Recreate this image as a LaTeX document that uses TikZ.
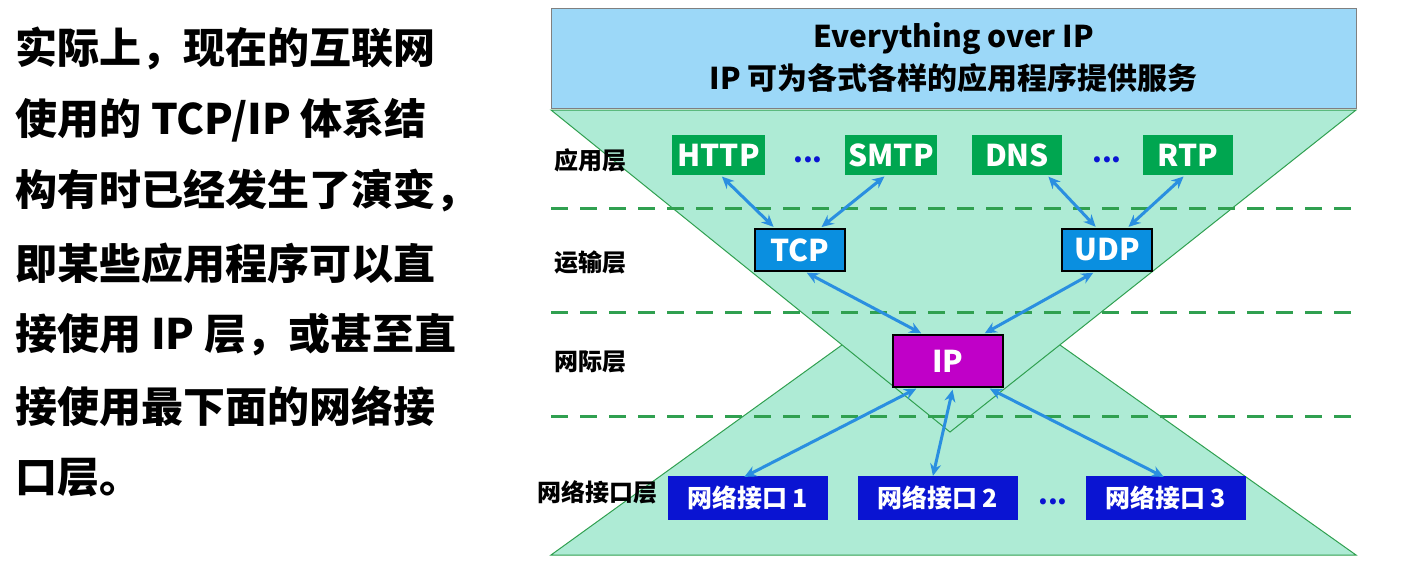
\documentclass[tikz,border=0pt]{standalone}
\usepackage{fontspec}
\setmainfont{Noto Sans CJK SC}
\usetikzlibrary{arrows.meta}
\definecolor{tri}{HTML}{AEEBD5}
\definecolor{trib}{HTML}{30A050}
\definecolor{appg}{HTML}{00A650}
\definecolor{tbl}{HTML}{0A8FE0}
\definecolor{arr}{HTML}{2A8FE0}
\definecolor{netb}{HTML}{0A14D2}
\definecolor{ipm}{HTML}{C000C8}
\definecolor{topb}{HTML}{9CD8F8}
\tikzset{
 appbox/.style={fill=appg,text=white,font=\bfseries\fontsize{30}{32}\selectfont,minimum height=40pt,inner sep=3pt},
 trbox/.style={fill=tbl,draw=black,line width=1.5pt,text=white,font=\bfseries\fontsize{30}{32}\selectfont,minimum width=90pt,minimum height=42pt,inner sep=2pt},
 netbox/.style={fill=netb,text=white,font=\bfseries\fontsize{25}{28}\selectfont,minimum width=160pt,minimum height=44pt,inner sep=2pt},
 lay/.style={font=\bfseries\fontsize{24}{26}\selectfont},
 dots/.style={text=netb,font=\bfseries\fontsize{28}{30}\selectfont},
 dl/.style={trib,line width=3pt,dash pattern=on 17pt off 12pt},
 bi/.style={arr,line width=3pt,{Stealth[length=12pt,width=11pt]}-{Stealth[length=12pt,width=11pt]},shorten <=2pt,shorten >=2pt},
 lt/.style={anchor=west,font=\bfseries\fontsize{42}{44}\selectfont}
}
\begin{document}
\begin{tikzpicture}[x=1pt,y=-1pt]
\useasboundingbox (0,0) rectangle (1405,563);
\fill[white] (0,0) rectangle (1405,563);
% triangles
\filldraw[fill=tri,draw=trib,line width=1pt] (551,555) -- (950,267) -- (1356,555) -- cycle;
\filldraw[fill=tri,draw=trib,line width=1pt] (551,110) -- (1356,110) -- (950,432) -- cycle;
% top box
\node[draw=gray,fill=topb,line width=1pt,minimum width=805pt,minimum height=100pt,inner sep=0pt,align=center,
 font=\bfseries\fontsize{30}{42}\selectfont] (top) at (953.5,58) {Everything over IP\\IP 可为各式各样的应用程序提供服务};
% dashed lines
\coordinate (d1a) at (551,208); \coordinate (d1b) at (1356,208);
\coordinate (d2a) at (551,312); \coordinate (d2b) at (1356,312);
\coordinate (d3a) at (551,416); \coordinate (d3b) at (1356,416);
\draw[dl] (d1a) -- (d1b); \draw[dl] (d2a) -- (d2b); \draw[dl] (d3a) -- (d3b);
% labels
\node[lay] (l1) at (590,160) {应用层};
\node[lay] (l2) at (590,262) {运输层};
\node[lay] (l3) at (590,362) {网际层};
\node[lay] (l4) at (597,492) {网络接口层};
% app boxes
\node[appbox,minimum width=93pt] (http) at (718.5,155) {HTTP};
\node[appbox,minimum width=92pt] (smtp) at (891,155) {SMTP};
\node[appbox,minimum width=90pt] (dns) at (1017,155) {DNS};
\node[appbox,minimum width=90pt] (rtp) at (1188,155) {RTP};
\node[dots] (dd1) at (808,160) {...};
\node[dots] (dd2) at (1107,160) {...};
\node[trbox] (tcp) at (800,250) {TCP};
\node[trbox] (udp) at (1107,250) {UDP};
\node[trbox,fill=ipm,minimum width=110pt,minimum height=52pt] (ip) at (948,361) {IP};
\node[netbox] (n1) at (747.5,498) {网络接口 1};
\node[netbox] (n2) at (937.5,498) {网络接口 2};
\node[netbox] (n3) at (1165.5,498) {网络接口 3};
\node[dots] (dd3) at (1053,502) {...};
% arrows
\draw[bi] ([xshift=2pt]http.south) -- ([xshift=-25pt]tcp.north);
\draw[bi] ([xshift=-5pt]smtp.south) -- ([xshift=20pt]tcp.north);
\draw[bi] ([xshift=30pt]dns.south) -- ([xshift=-10pt]udp.north);
\draw[bi] ([xshift=-3pt]rtp.south) -- ([xshift=20pt]udp.north);
\draw[bi] ([xshift=5pt]tcp.south) -- ([xshift=-25pt]ip.north);
\draw[bi] ([xshift=-12pt]udp.south) -- ([xshift=35pt]ip.north);
\draw[bi] ([xshift=-30pt]ip.south) -- ([xshift=-5pt,yshift=-2pt]n1.north);
\draw[bi] ([xshift=5pt]ip.south) -- ([xshift=-5pt,yshift=-2pt]n2.north);
\draw[bi] ([xshift=40pt]ip.south) -- ([xshift=0pt,yshift=-2pt]n3.north);
% left text
\node[lt] (t1) at (12,48) {实际上，现在的互联网};
\node[lt] (t2) at (12,120) {使用的 TCP/IP 体系结};
\node[lt] (t3) at (12,191) {构有时已经发生了演变，};
\node[lt] (t4) at (12,263) {即某些应用程序可以直};
\node[lt] (t5) at (12,335) {接使用 IP 层，或甚至直};
\node[lt] (t6) at (12,406) {接使用最下面的网络接};
\node[lt] (t7) at (12,478) {口层。};
\end{tikzpicture}
\end{document}
